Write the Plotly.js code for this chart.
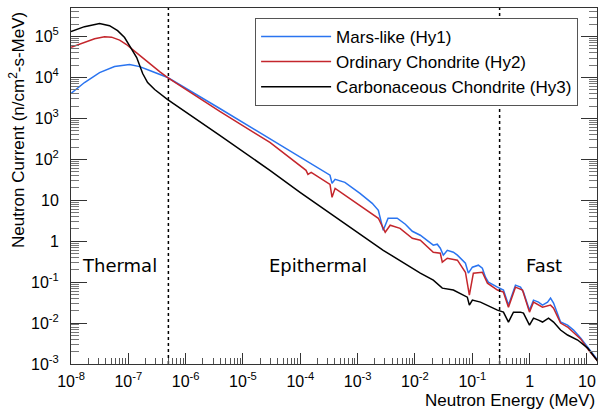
<!DOCTYPE html>
<html>
<head>
<meta charset="utf-8">
<script src="https://cdn.plot.ly/plotly-3.0.1.min.js"></script>
<style>html,body{margin:0;padding:0;background:#fff;}#chart{width:598px;height:411px;}</style>
</head>
<body>
<div id="chart"></div>
<script>
// Mars-like (Hy1)
const energyHy1 = [1e-8,1.72e-8,3.15e-8,5.75e-8,1.05e-7,1.58e-7,2.36e-7,3.52e-7,4.86e-7,3.94e-6,2.95e-5,9.9e-5,2.7e-4,3.3e-4,3.58e-4,4.05e-4,6.0e-4,1.1e-3,1.8e-3,2.3e-3,2.8e-3,3.4e-3,4.9e-3,6.8e-3,9.0e-3,1.24e-2,2.09e-2,2.45e-2,2.77e-2,3.13e-2,3.67e-2,4.68e-2,5.5e-2,7.6e-2,8.55e-2,0.1005,0.128,0.150,0.170,0.191,0.275,0.35,0.428,0.567,0.694,0.782,0.996,1.17,1.43,1.68,2.06,2.32,2.62,3.08,3.47,4.6,5.85,7.76,10.7,15.4];
const fluxHy1 = [4.07e3,7.55e3,1.32e4,1.85e4,2.08e4,1.85e4,1.48e4,1.18e4,1.0e4,1.75e3,316,118,48,41,26,32.5,27.5,14.8,8.45,5.7,1.85,3.64,3.64,2.6,1.75,1.40,0.80,0.845,0.675,0.456,0.60,0.54,0.456,0.29,0.166,0.232,0.26,0.22,0.132,0.1,0.0755,0.064,0.0275,0.0845,0.0755,0.057,0.0207,0.0364,0.0325,0.0275,0.0325,0.0407,0.0308,0.0175,0.0106,0.0089,0.00675,0.0043,0.00245,0.00125];

// Ordinary Chondrite (Hy2)
const energyHy2 = [1e-8,1.72e-8,2.58e-8,3.85e-8,5.1e-8,7.05e-8,9.3e-8,1.19e-7,1.58e-7,2.36e-7,3.52e-7,4.86e-7,3.94e-6,2.95e-5,9.9e-5,1.26e-4,1.36e-4,1.55e-4,3.3e-4,3.58e-4,4.05e-4,1.1e-3,2.3e-3,3.03e-3,3.7e-3,5.5e-3,9.0e-3,1.24e-2,2.09e-2,2.77e-2,3.0e-2,3.67e-2,5.5e-2,7.6e-2,8.9e-2,0.1045,0.150,0.184,0.275,0.35,0.428,0.567,0.752,0.996,1.17,1.68,2.32,2.62,3.47,4.6,7.76,10.7,15.4];
const fluxHy2 = [5.5e4,7.35e4,8.9e4,9.85e4,9.7e4,8.2e4,6.4e4,4.8e4,3.44e4,2.19e4,1.4e4,1.0e4,1.48e3,260,71.5,54,43,48,24.5,11.8,19.6,7.55,3.64,1.66,2.46,2.07,1.18,1.06,0.54,0.51,0.308,0.385,0.344,0.175,0.048,0.166,0.175,0.0946,0.064,0.057,0.0245,0.0755,0.064,0.0185,0.0325,0.0245,0.0275,0.0232,0.01,0.008,0.0041,0.00219,0.00118];

// Carbonaceous Chondrite (Hy3)
const energyHy3 = [1e-8,1.72e-8,3.15e-8,4.7e-8,6.5e-8,8.6e-8,1.1e-7,1.4e-7,1.78e-7,2.17e-7,2.88e-7,4.86e-7,3.94e-6,2.95e-5,9.9e-5,3.73e-4,2.8e-3,1.24e-2,2.09e-2,3.0e-2,4.68e-2,8.2e-2,8.9e-2,0.1005,0.139,0.275,0.35,0.428,0.523,0.694,0.782,0.996,1.17,1.43,1.68,2.14,2.62,3.47,4.6,6.9,10.3,15.4];
const fluxHy3 = [1.32e5,1.75e5,2.08e5,1.85e5,1.4e5,9.5e4,5.4e4,3.08e4,1.25e4,7.55e3,5.1e3,2.9e3,385,54,15.7,4.3,0.60,0.166,0.112,0.0714,0.064,0.043,0.0275,0.0364,0.0325,0.0207,0.0185,0.0106,0.0185,0.0185,0.0175,0.0089,0.0132,0.0118,0.0106,0.0132,0.0106,0.00675,0.0051,0.00385,0.00245,0.00118];

const seriesNames = ["Mars-like (Hy1)", "Ordinary Chondrite (Hy2)", "Carbonaceous Chondrite (Hy3)"];
const seriesColors = ["#2a74f0", "#c4262c", "#000000"];

// region boundaries (MeV) and labels
const boundaries = [5e-7, 0.3];
const regionLabels = ["Thermal", "Epithermal", "Fast"];
const regionLabelEnergy = [7.05e-8, 2.05e-4, 1.75];
const regionLabelFlux = 0.26;

const xTickVals = [1e-8,1e-7,1e-6,1e-5,1e-4,1e-3,1e-2,1e-1,1,10];
const xTickText = ["10<sup>-8</sup>","10<sup>-7</sup>","10<sup>-6</sup>","10<sup>-5</sup>","10<sup>-4</sup>","10<sup>-3</sup>","10<sup>-2</sup>","10<sup>-1</sup>","1","10"];
const yTickVals = [1e-3,1e-2,1e-1,1,10,1e2,1e3,1e4,1e5];
const yTickText = ["10<sup>-3</sup>","10<sup>-2</sup>","10<sup>-1</sup>","1","10","10<sup>2</sup>","10<sup>3</sup>","10<sup>4</sup>","10<sup>5</sup>"];

function minorVals(lo, hi) {
  const v = [];
  for (let e = lo; e <= hi; e++) for (let m = 2; m <= 9; m++) v.push(m * Math.pow(10, e));
  return v;
}

const yRange = [1e-3, 5e5];
const traces = [
  {x: energyHy1, y: fluxHy1, name: seriesNames[0]},
  {x: energyHy2, y: fluxHy2, name: seriesNames[1]},
  {x: energyHy3, y: fluxHy3, name: seriesNames[2]}
].map((t, i) => Object.assign(t, {type: "scatter", mode: "lines", line: {color: seriesColors[i], width: 1.5}}));

boundaries.forEach(b => traces.push({
  type: "scatter", mode: "lines", x: [b, b], y: yRange, showlegend: false, hoverinfo: "skip",
  line: {color: "#000", width: 1.5, dash: "dot"}
}));

const font = {family: "Liberation Sans, Arial, sans-serif", size: 16, color: "#000"};

const annotations = regionLabels.map((t, i) => ({
  text: t, x: Math.log10(regionLabelEnergy[i]), y: Math.log10(regionLabelFlux), xref: "x", yref: "y",
  showarrow: false, xanchor: "center", yanchor: "middle",
  font: {family: "DejaVu Sans, sans-serif", size: 18, color: "#000"}
}));
annotations.push({
  text: "Neutron Energy (MeV)", xref: "paper", yref: "paper", x: 1.0, y: -0.102,
  xanchor: "right", yanchor: "middle", showarrow: false, font: {family: font.family, size: 17, color: "#000"}
});
annotations.push({
  text: "Neutron Current (n/cm<sup>2</sup>-s-MeV)", xref: "paper", yref: "paper", x: -0.103, y: 0.994,
  xanchor: "center", yanchor: "top", textangle: -90, showarrow: false, font: {family: font.family, size: 17, color: "#000"}
});

const layout = {
  width: 598, height: 411,
  margin: {l: 71, r: 1, t: 8, b: 47},
  paper_bgcolor: "#fff", plot_bgcolor: "#fff",
  font: font,
  showlegend: true,
  legend: {
    x: 0.35, y: 0.972, xanchor: "left", yanchor: "top",
    bgcolor: "#fff", bordercolor: "#555", borderwidth: 1,
    font: {family: font.family, size: 17, color: "#000"},
    itemwidth: 70
  },
  xaxis: {
    type: "log", range: [-8, Math.log10(15)],
    tickmode: "array", tickvals: xTickVals, ticktext: xTickText,
    ticks: "inside", ticklen: 11, tickcolor: "#333", tickwidth: 1,
    showline: true, linecolor: "#333", linewidth: 1, mirror: true,
    showgrid: false, zeroline: false, ticklabelstandoff: 3,
    minor: {tickmode: "array", tickvals: minorVals(-8, 1).filter(v => v <= 15), ticks: "inside", ticklen: 6, tickcolor: "#555", showgrid: false}
  },
  yaxis: {
    type: "log", range: [-3, Math.log10(5e5)],
    tickmode: "array", tickvals: yTickVals, ticktext: yTickText,
    ticks: "inside", ticklen: 16, tickcolor: "#333", tickwidth: 1,
    showline: true, linecolor: "#333", linewidth: 1, mirror: "ticks",
    showgrid: false, zeroline: false, ticklabelstandoff: 8,
    minor: {tickmode: "array", tickvals: minorVals(-3, 5).filter(v => v <= 5e5), ticks: "inside", ticklen: 8, tickcolor: "#777", showgrid: false}
  },
  annotations: annotations
};

Plotly.newPlot("chart", traces, layout, {staticPlot: true, displayModeBar: false});
</script>
</body>
</html>
